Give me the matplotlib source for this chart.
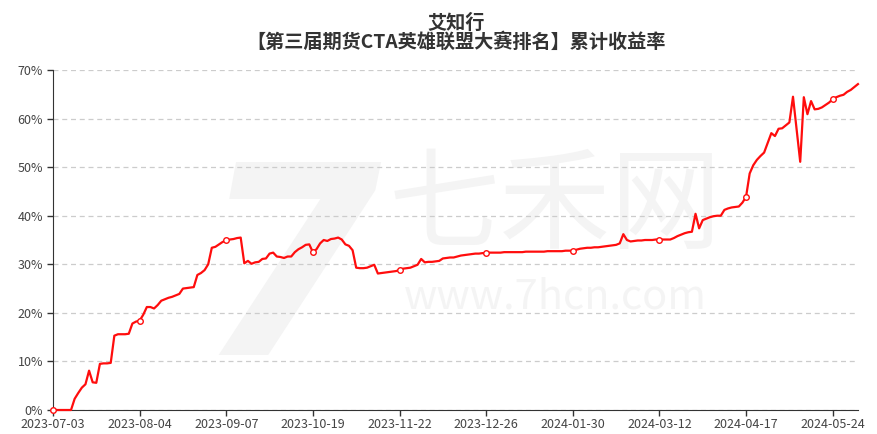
import numpy as np
from matplotlib import pyplot as plt
from matplotlib.ticker import FuncFormatter

# 累计收益率 (%) - 每个交易日一个点
returns = [
    0.0, 0.0, 0.0, 0.0, 0.0, 0.0, 2.3, 3.5, 4.6, 5.3,
    8.1, 5.7, 5.6, 9.5, 9.6, 9.6, 9.7, 15.3, 15.6, 15.6,
    15.6, 15.7, 17.8, 18.2, 18.4, 19.6, 21.2, 21.2, 20.9, 21.6,
    22.5, 22.8, 23.1, 23.3, 23.6, 23.9, 25.0, 25.1, 25.2, 25.3,
    27.8, 28.2, 28.8, 30.0, 33.4, 33.6, 34.1, 34.6, 34.9, 35.1,
    35.2, 35.4, 35.5, 30.2, 30.7, 30.1, 30.4, 30.5, 31.1, 31.2,
    32.2, 32.4, 31.6, 31.5, 31.3, 31.6, 31.6, 32.5, 33.1, 33.5,
    34.0, 34.1, 32.5, 33.1, 34.3, 35.0, 34.8, 35.2, 35.3, 35.5,
    35.1, 34.1, 33.8, 32.9, 29.3, 29.2, 29.2, 29.3, 29.6, 29.9,
    28.1, 28.2, 28.3, 28.4, 28.5, 28.6, 28.8, 29.1, 29.2, 29.3,
    29.6, 29.9, 31.1, 30.4, 30.5, 30.5, 30.6, 30.7, 31.2, 31.3,
    31.4, 31.4, 31.6, 31.8, 31.9, 32.0, 32.1, 32.2, 32.2, 32.3,
    32.3, 32.4, 32.4, 32.4, 32.4, 32.5, 32.5, 32.5, 32.5, 32.5,
    32.5, 32.6, 32.6, 32.6, 32.6, 32.6, 32.6, 32.7, 32.7, 32.7,
    32.7, 32.7, 32.8, 32.8, 32.8, 33.0, 33.2, 33.3, 33.4, 33.4,
    33.5, 33.5, 33.6, 33.7, 33.8, 33.9, 34.0, 34.3, 36.2, 35.0,
    34.7, 34.8, 34.9, 34.9, 35.0, 35.0, 35.0, 35.1, 35.1, 35.1,
    35.1, 35.1, 35.4, 35.8, 36.1, 36.4, 36.6, 36.7, 40.4, 37.4,
    39.1, 39.4, 39.7, 39.9, 40.0, 40.0, 41.2, 41.5, 41.7, 41.8,
    41.9, 42.7, 43.9, 48.7, 50.4, 51.5, 52.3, 53.0, 55.0, 57.0,
    56.4, 57.9, 58.0, 58.6, 59.2, 64.5, 57.8, 51.1, 64.4, 60.9,
    63.6, 61.9, 62.0, 62.3, 62.8, 63.3, 64.0, 64.4, 64.7, 64.9,
    65.5, 65.9, 66.5, 67.1,
]

tick_labels = ['2023-07-03', '2023-08-04', '2023-09-07', '2023-10-19', '2023-11-22',
               '2023-12-26', '2024-01-30', '2024-03-12', '2024-04-17', '2024-05-24']
label_step = 24

title_name = '艾知行'
title_sub = '【第三届期货CTA英雄联盟大赛排名】累计收益率'


def chinese_font():
    plt.rcParams['font.family'] = ['Noto Sans CJK SC', 'DejaVu Sans']
    plt.rcParams['axes.unicode_minus'] = False


def plot_returns():
    fig = plt.figure(figsize=(8.77, 4.34), dpi=100)
    ax = fig.add_axes([0.0604, 0.0553, 0.9179, 0.7834])
    ax.set_zorder(1)
    ax.patch.set_alpha(0)

    # 水印 (在坐标轴下面)
    wm = '#f4f4f4'
    fig.text(0.33, 0.35, '7', fontsize=190, fontweight='bold', style='italic',
             color=wm, ha='center', va='center', family='DejaVu Sans', zorder=0)
    fig.text(0.633, 0.52, '七禾网', fontsize=80, color=wm, ha='center', va='center', zorder=0)
    fig.text(0.633, 0.315, 'www.7hcn.com', fontsize=30, color=wm, ha='center', va='center', zorder=0)

    x = np.arange(len(returns))
    ax.plot(x, returns, color='#ff0d0d', linewidth=1.6, marker='o', markersize=4,
            markerfacecolor='white', markeredgecolor='#ff0d0d', markeredgewidth=1,
            markevery=label_step, zorder=3, clip_on=False)

    ax.set_xlim(0, len(returns) - 1)
    ax.set_ylim(0, 70)
    ax.set_xticks(np.arange(0, len(returns), label_step))
    ax.set_xticklabels(tick_labels)
    ax.set_yticks(np.arange(0, 71, 10))
    ax.yaxis.set_major_formatter(FuncFormatter(lambda v, p: '%d%%' % v))
    ax.tick_params(axis='both', colors='#333333', labelcolor='#444444', labelsize=9,
                   length=4, width=1)
    ax.tick_params(axis='x', pad=2)
    ax.tick_params(axis='y', pad=3)

    ax.grid(axis='y', linestyle=(0, (4, 3)), color='#cccccc', linewidth=0.9)
    ax.set_axisbelow(True)
    for side in ['top', 'right']:
        ax.spines[side].set_visible(False)
    ax.spines['left'].set_color('#333333')
    ax.spines['bottom'].set_color('#333333')

    fig.text(0.52, 0.947, title_name, ha='center', va='center', fontsize=13.8,
             fontweight='bold', color='#333333')
    fig.text(0.52, 0.904, title_sub, ha='center', va='center', fontsize=13.8,
             fontweight='bold', color='#333333')

    fig.savefig('out.png', dpi=100)


if __name__ == '__main__':
    chinese_font()
    plot_returns()
